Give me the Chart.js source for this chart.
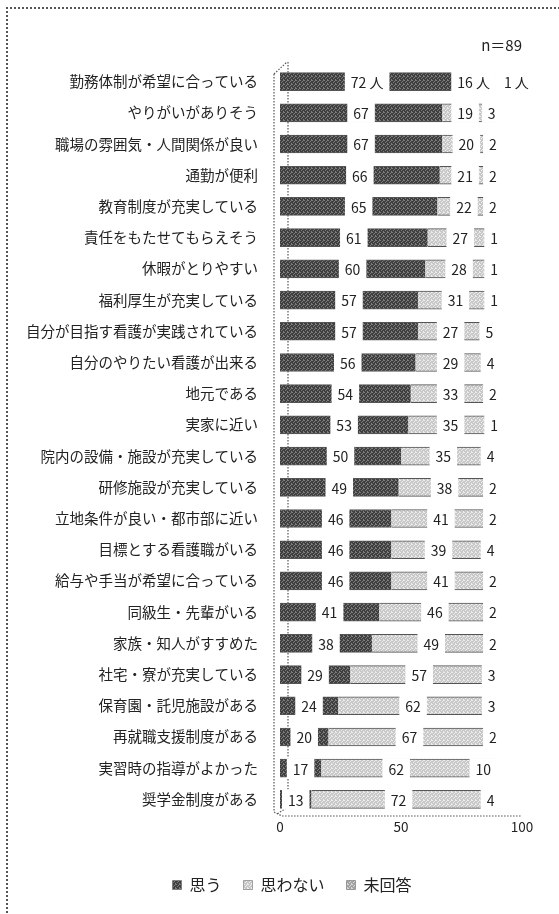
<!DOCTYPE html>
<html lang="ja">
<head>
<meta charset="utf-8">
<script src="https://cdn.jsdelivr.net/npm/chart.js@4"></script>
<style>
  html, body { margin: 0; padding: 0; background: #fff; }
  #wrap { position: relative; width: 559px; height: 914px; overflow: hidden; }
  #frame {
    position: absolute; left: 6px; top: 7px; width: 560px; height: 1000px;
    border-left: 2px dotted #555; border-top: 2px dotted #555;
  }
  canvas { position: absolute; left: 0; top: 0; }
</style>
</head>
<body>
<div id="wrap">
  <div id="frame"></div>
  <canvas id="chart" width="559" height="914"></canvas>
</div>
<script>
const FONT = "'Noto Sans CJK JP', 'Noto Sans', sans-serif";

const categories = [
  "勤務体制が希望に合っている", "やりがいがありそう", "職場の雰囲気・人間関係が良い",
  "通勤が便利", "教育制度が充実している", "責任をもたせてもらえそう",
  "休暇がとりやすい", "福利厚生が充実している", "自分が目指す看護が実践されている",
  "自分のやりたい看護が出来る", "地元である", "実家に近い",
  "院内の設備・施設が充実している", "研修施設が充実している", "立地条件が良い・都市部に近い",
  "目標とする看護職がいる", "給与や手当が希望に合っている", "同級生・先輩がいる",
  "家族・知人がすすめた", "社宅・寮が充実している", "保育園・託児施設がある",
  "再就職支援制度がある", "実習時の指導がよかった", "奨学金制度がある",
];
const omou = [72, 67, 67, 66, 65, 61, 60, 57, 57, 56, 54, 53, 50, 49, 46, 46, 46, 41, 38, 29, 24, 20, 17, 13];
const omowanai = [16, 19, 20, 21, 22, 27, 28, 31, 27, 29, 33, 35, 35, 38, 41, 39, 41, 46, 49, 57, 62, 67, 62, 72];
const mikaitou = [1, 3, 2, 2, 2, 1, 1, 1, 5, 4, 2, 1, 4, 2, 2, 4, 2, 2, 2, 3, 3, 2, 10, 4];
const seriesNames = ["思う", "思わない", "未回答"];
const xTicks = [0, 50, 100];
const sampleSize = "n＝89";

// small speckled fill like the scanned original
function pattern(base, dot) {
  const c = document.createElement("canvas");
  c.width = 4; c.height = 4;
  const g = c.getContext("2d");
  g.fillStyle = base;
  g.fillRect(0, 0, 4, 4);
  g.fillStyle = dot;
  [[0, 0], [2, 1], [1, 2], [3, 3], [3, 0]].forEach(([x, y]) => g.fillRect(x, y, 1, 1));
  return g.createPattern(c, "repeat");
}

const fills = [
  pattern("#3f3f3f", "#7d7d7d"),
  pattern("#c8c8c8", "#ececec"),
  pattern("#a2a2a2", "#d8d8d8"),
];

// 3D-ish wall and floor lines
const wallPlugin = {
  id: "wall",
  beforeDatasetsDraw(chart) {
    const { ctx, chartArea: a, scales } = chart;
    const x0 = scales.x.getPixelForValue(0);
    const x1 = scales.x.getPixelForValue(100);
    ctx.save();
    ctx.strokeStyle = "#555";
    ctx.lineWidth = 1.2;
    ctx.setLineDash([1.5, 1.5]);
    ctx.beginPath();
    ctx.moveTo(x0 - 6, a.top + 8);
    ctx.lineTo(x0 - 6, a.bottom - 3);
    ctx.lineTo(x0 + 2, a.bottom + 1);
    ctx.lineTo(x1, a.bottom + 1);
    ctx.moveTo(x0 - 6, a.top + 8);
    ctx.lineTo(x0 + 7, a.top - 4);
    ctx.moveTo(x0 + 8, a.top - 4);
    ctx.lineTo(x0 + 8, a.bottom - 8);
    ctx.lineTo(x0 - 3, a.bottom - 1);
    ctx.stroke();
    ctx.restore();
  },
};

// centred value labels on white boxes, pushed right when they would collide
const labelPlugin = {
  id: "valueLabels",
  afterDatasetsDraw(chart) {
    const { ctx } = chart;
    ctx.save();
    ctx.font = "14px " + FONT;
    ctx.textAlign = "center";
    ctx.textBaseline = "middle";
    categories.forEach((_, i) => {
      let prevRight = -Infinity;
      chart.data.datasets.forEach((ds, d) => {
        const bar = chart.getDatasetMeta(d).data[i];
        const text = ds.data[i] + (i === 0 ? " 人" : "");
        const w = ctx.measureText(text).width + 12;
        let cx = (bar.x + bar.base) / 2;
        if (cx - w / 2 < prevRight + 2) cx = prevRight + 2 + w / 2;
        ctx.fillStyle = "#fff";
        ctx.fillRect(cx - w / 2, bar.y - bar.height / 2 - 1, w, bar.height + 2);
        ctx.fillStyle = "#222";
        ctx.fillText(text, cx, bar.y + 1);
        prevRight = cx + w / 2;
      });
    });
    ctx.restore();
  },
};

// legend sits a little right of the canvas centre in the original
const legendShift = {
  id: "legendShift",
  afterLayout(chart) {
    chart.legend.left += 31;
    chart.legend.right += 31;
  },
};

new Chart(document.getElementById("chart"), {
  type: "bar",
  data: {
    labels: categories,
    datasets: [omou, omowanai, mikaitou].map((vals, k) => ({
      label: seriesNames[k],
      data: vals,
      backgroundColor: fills[k],
      borderColor: "#555",
      borderWidth: { top: 1, bottom: 1, left: 0, right: 0 },
      borderSkipped: false,
      barThickness: 18,
    })),
  },
  options: {
    indexAxis: "y",
    responsive: false,
    animation: false,
    layout: { padding: { left: 0, right: 37, top: 36, bottom: 11 } },
    plugins: {
      legend: {
        position: "bottom",
        labels: { font: { family: FONT, size: 16 }, color: "#222", boxWidth: 9, boxHeight: 9, padding: 22 },
      },
      title: {
        display: true,
        text: sampleSize,
        align: "end",
        font: { family: FONT, size: 15, weight: "normal" },
        color: "#222",
        padding: { top: 0, bottom: 12 },
      },
      tooltip: { enabled: false },
    },
    scales: {
      x: {
        stacked: true,
        min: 0,
        max: 100,
        afterBuildTicks: (s) => { s.ticks = xTicks.map((v) => ({ value: v })); },
        afterFit: (s) => { s.height = 40; },
        ticks: { font: { family: FONT, size: 13.5 }, color: "#222", padding: 4 },
        grid: { display: false, drawTicks: false },
        border: { display: false },
      },
      y: {
        stacked: true,
        afterFit: (s) => { s.width = 280; },
        ticks: { font: { family: FONT, size: 14.5 }, color: "#222", padding: 22, autoSkip: false },
        grid: { display: false, drawTicks: false },
        border: { display: false },
      },
    },
  },
  plugins: [wallPlugin, labelPlugin, legendShift],
});
</script>
</body>
</html>
